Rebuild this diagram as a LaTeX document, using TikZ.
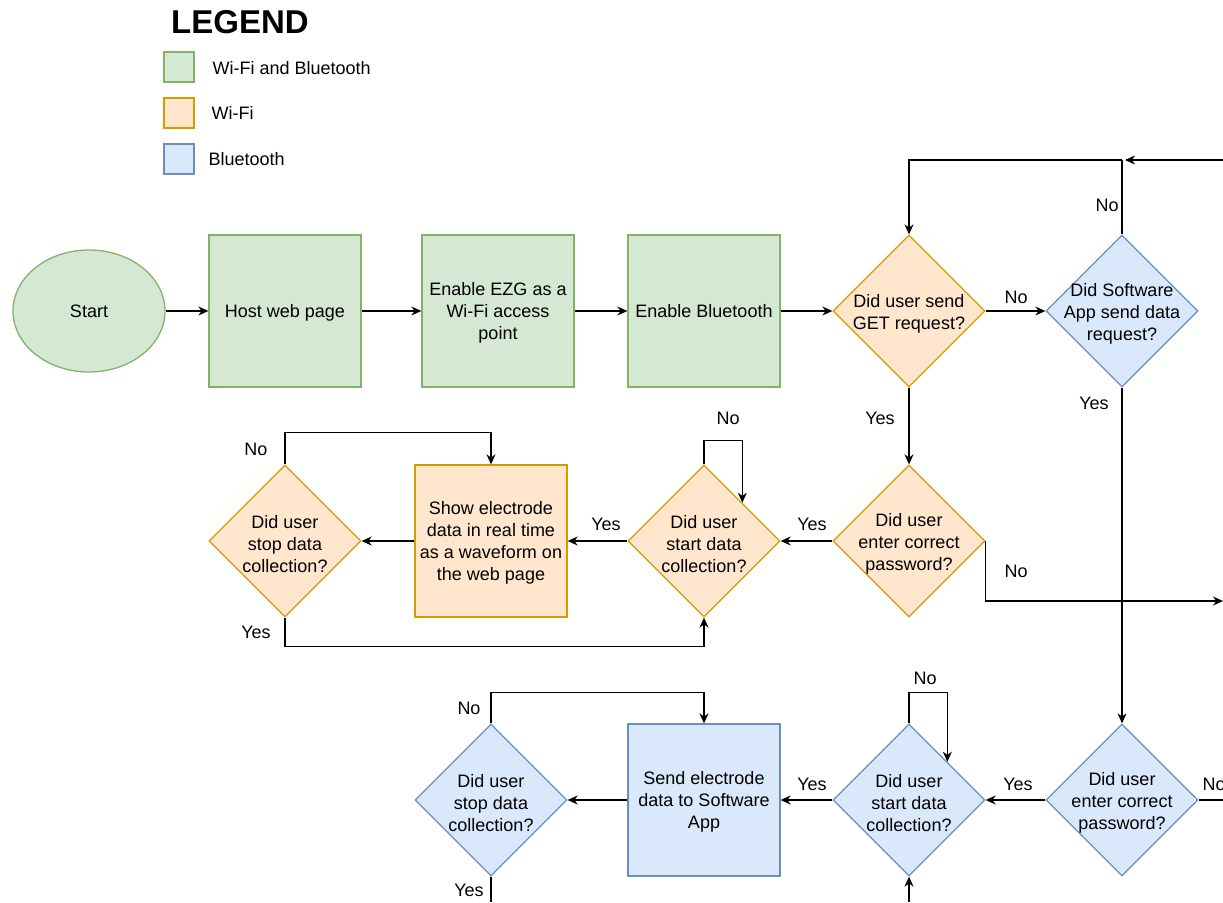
\documentclass[tikz,border=0pt]{standalone}
\usepackage{fontspec}
\setmainfont{Liberation Sans}
\usetikzlibrary{arrows.meta,shapes.geometric,positioning}

\definecolor{wbfill}{HTML}{D5E8D4}
\definecolor{wbline}{HTML}{82B366}
\definecolor{wififill}{HTML}{FFE6CC}
\definecolor{wifiline}{HTML}{D79B00}
\definecolor{btfill}{HTML}{DAE8FC}
\definecolor{btline}{HTML}{6C8EBF}

\begin{document}
\begin{tikzpicture}[x=1pt,y=-1pt,>={Stealth[length=10pt,width=9pt]},
                    font=\fontsize{18}{22}\selectfont,line width=1.3pt,
                    box/.style={rectangle,draw,minimum size=152pt,align=center,inner sep=2pt,text depth=0pt},
                    dec/.style={diamond,draw,aspect=1,minimum size=152pt,inner sep=0pt},
                    legbox/.style={rectangle,draw,minimum size=30pt,inner sep=0pt},
                    wb/.style={fill=wbfill,draw=wbline},
                    wifi/.style={fill=wififill,draw=wifiline},
                    bt/.style={fill=btfill,draw=btline},
                    every label/.append style={yshift=-3pt},
                    lbl/.style={inner sep=0pt}]
  \useasboundingbox (0,0) rectangle (1223,902);

  \node[font=\fontsize{33}{36}\selectfont\bfseries] (legend) at (240,22) {LEGEND};
  \node[legbox,wb]   (kwb)   at (179,67)  {};
  \node[legbox,wifi] (kwifi) at (179,113) {};
  \node[legbox,bt]   (kbt)   at (179,159) {};
  \node[lbl,anchor=west] (twb)   at (212,68)  {Wi-Fi and Bluetooth};
  \node[lbl,anchor=west] (twifi) at (211,113) {Wi-Fi};
  \node[lbl,anchor=west] (tbt)   at (208,159) {Bluetooth};

  \node[ellipse,draw,wb,minimum width=152pt,minimum height=122pt] (start) at (89,311) {Start};
  \node[box,wb]  (host)  [right of=start,node distance=196pt] {Host web page};
  \node[box,wb]  (ezg)   [right of=host,node distance=213pt]  {Enable EZG as a\\Wi-Fi access\\point};
  \node[box,wb]  (bten)  [right of=ezg,node distance=206pt]   {Enable Bluetooth};
  \node[dec,wifi,label={[align=center]center:Did user send\\GET request?}] (get) [right of=bten,node distance=205pt] {};
  \node[dec,bt,label={[align=center]center:Did Software\\App send data\\request?}] (swreq) [right of=get,node distance=213pt] {};

  \node[dec,wifi,label={[align=center]center:Did user\\enter correct\\password?}] (wpass) at (909,541) {};
  \node[dec,wifi,label={[align=center]center:Did user\\start data\\collection?}] (wstart) [left of=wpass,node distance=205pt] {};
  \node[box,wifi] (wshow) [left of=wstart,node distance=213pt] {Show electrode\\data in real time\\as a waveform on\\the web page};
  \node[dec,wifi,label={[align=center]center:Did user\\stop data\\collection?}] (wstop) [left of=wshow,node distance=206pt] {};

  \node[dec,bt,label={[align=center]center:Did user\\enter correct\\password?}] (bpass) at (1122,800) {};
  \node[dec,bt,label={[align=center]center:Did user\\start data\\collection?}] (bstart) [left of=bpass,node distance=213pt] {};
  \node[box,bt] (bsend) [left of=bstart,node distance=205pt] {Send electrode\\data to Software\\App};
  \node[dec,bt,label={[align=center]center:Did user\\stop data\\collection?}] (bstop) [left of=bsend,node distance=213pt] {};

  \coordinate (topjoin)   at (1122,160);
  \coordinate (topedge)   at (1223,160);
  \coordinate (midedge)   at (1223,601);
  \coordinate (lowedge)   at (1223,800);
  \coordinate (stopedge)  at (491,902);
  \coordinate (startedge) at (909,902);

  \draw[->] (start) -- (host);
  \draw[->] (host) -- (ezg);
  \draw[->] (ezg) -- (bten);
  \draw[->] (bten) -- (get);
  \draw[->] (get) -- (swreq);
  \draw (swreq.north) -- (topjoin);
  \draw[->] (topjoin) -| (get.north);
  \draw[->,shorten >=3pt] (topedge) -- (topjoin);
  \draw[->] (get) -- (wpass);
  \draw[->] (swreq) -- (bpass);

  \draw[->] (wpass) -- (wstart);
  \draw[->] (wpass.east) |- (midedge);
  \draw[->] (wstart.north) -- ++(0,-24) -| (wstart.north east);
  \draw[->] (wstart) -- (wshow);
  \draw[->] (wshow) -- (wstop);
  \draw[->] (wstop.north) -- ++(0,-32) -| (wshow.north);
  \draw[->] (wstop.south) -- ++(0,29) -| (wstart.south);

  \draw[->] (bpass) -- (bstart);
  \draw (bpass.east) -- (lowedge);
  \draw[->] (bstart.north) -- ++(0,-31) -| (bstart.north east);
  \draw[->] (bstart) -- (bsend);
  \draw[->] (bsend) -- (bstop);
  \draw[->] (bstop.north) -- ++(0,-31) -| (bsend.north);
  \draw (bstop.south) -- (stopedge);
  \draw[->] (startedge) -- (bstart.south);

  \node[lbl] (nget)    at (1016,297) {No};
  \node[lbl] (nsw)     at (1107,205) {No};
  \node[lbl] (yget)    at (880,418)  {Yes};
  \node[lbl] (ysw)     at (1094,403) {Yes};
  \node[lbl] (ywpass)  at (812,524)  {Yes};
  \node[lbl] (nwpass)  at (1016,571) {No};
  \node[lbl] (nwstart) at (728,418)  {No};
  \node[lbl] (ywstart) at (606,524)  {Yes};
  \node[lbl] (nwstop)  at (256,449)  {No};
  \node[lbl] (ywstop)  at (256,632)  {Yes};
  \node[lbl] (ybpass)  at (1018,784) {Yes};
  \node[lbl,anchor=west] (nbpass) at (1202,784) {No};
  \node[lbl] (nbstart) at (925,678)  {No};
  \node[lbl] (ybstart) at (812,784)  {Yes};
  \node[lbl] (nbstop)  at (469,708)  {No};
  \node[lbl] (ybstop)  at (469,890)  {Yes};
\end{tikzpicture}
\end{document}
